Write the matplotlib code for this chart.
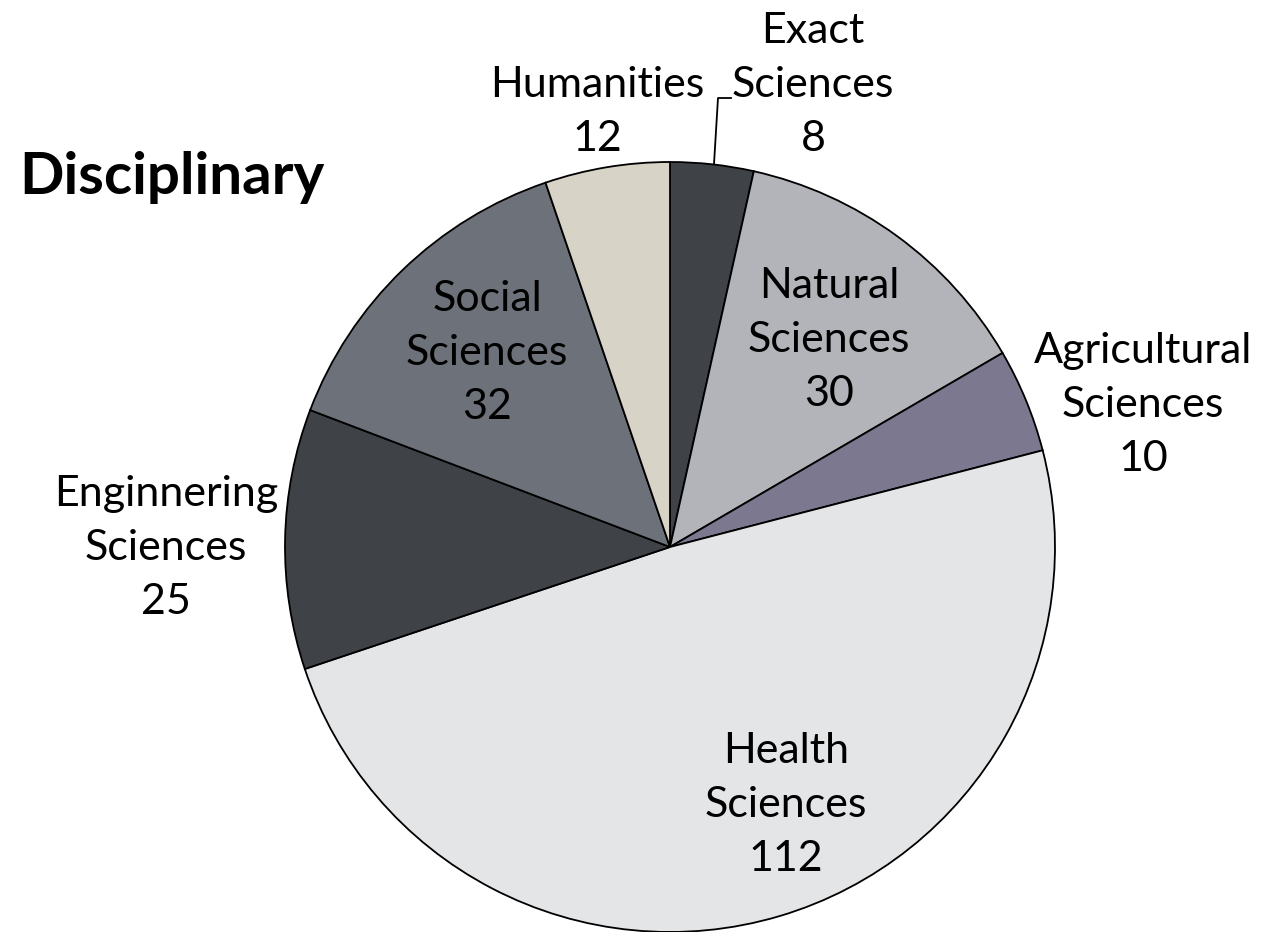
import matplotlib
matplotlib.use('Agg')
import matplotlib.pyplot as plt

plt.rcParams['font.family'] = ['Lato', 'DejaVu Sans']

# ── Data ──────────────────────────────────────────────────────────────────
labels = ['Exact\nSciences', 'Natural\nSciences', 'Agricultural\nSciences',
          'Health\nSciences', 'Enginnering\nSciences', 'Social\nSciences',
          'Humanities']
values = [8, 30, 10, 112, 25, 32, 12]
value_text = ['8', '30', '10', '112', '25', '32', '12']
colors = ['#3f4247', '#b2b4ba', '#7c788f', '#e4e5e7', '#3f4247', '#6d717a', '#d7d3c7']

# label anchor positions in pixels (x, y from top)
label_pos = [(813, 85), (829, 340), (1143, 405), (786, 805),
             (166, 548), (487, 353), (597, 112)]

W, H = 1263, 932
fig = plt.figure(figsize=(W / 100, H / 100), dpi=100, facecolor='white')
ax = fig.add_axes([0, 0, 1, 1])

cx, cy, r = 670, 547, 385
ax.pie(values, colors=colors, startangle=90, counterclock=False,
       center=(cx, H - cy), radius=r, frame=True,
       wedgeprops=dict(edgecolor='black', linewidth=1.3))
ax.set_xlim(0, W)
ax.set_ylim(0, H)
ax.axis('off')

for lab, val, (x, y) in zip(labels, value_text, label_pos):
    ax.text(x, H - y, f'{lab}\n{val}', ha='center', va='center',
            fontsize=31, linespacing=1.52, color='black')

# leader line for the small "Exact Sciences" slice
ax.plot([714, 718, 731], [H - 164, H - 98, H - 98], color='black', lw=1.3)

ax.text(172, H - 178, 'Disciplinary', ha='center', va='center',
        fontsize=42, fontweight='bold', color='black')

fig.savefig('out.png', dpi=100, facecolor='white')
